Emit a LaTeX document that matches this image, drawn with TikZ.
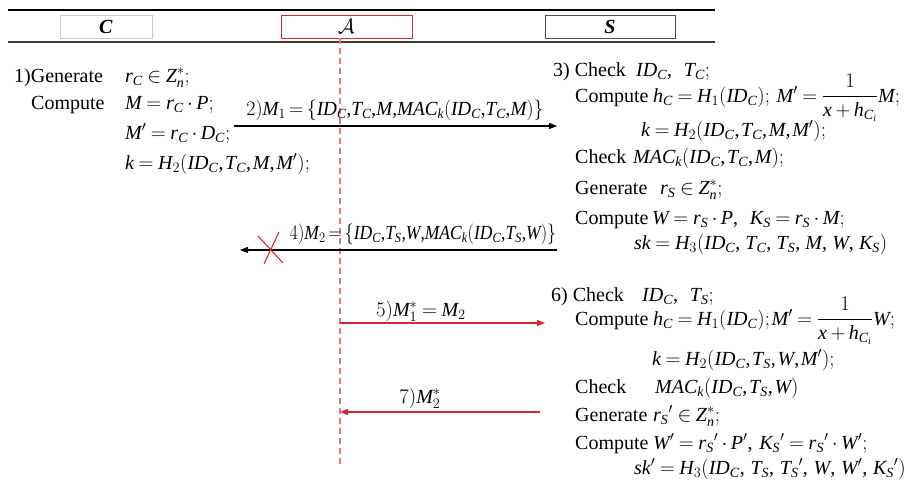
\documentclass[tikz,border=0pt]{standalone}
\usepackage{amsmath}
\usepackage{fontspec}
\setmainfont{Liberation Serif}
\newfontfamily\tnrfam{Liberation Serif}[NFSSFamily=tnr]
\DeclareSymbolFont{tnrit}{TU}{tnr}{m}{it}
\DeclareSymbolFont{tnrup}{TU}{tnr}{m}{n}
\makeatletter
\count@=`A
\loop \Umathcode\count@="7 \symtnrit \count@ \ifnum\count@<`Z \advance\count@ by 1 \repeat
\count@=`a
\loop \Umathcode\count@="7 \symtnrit \count@ \ifnum\count@<`z \advance\count@ by 1 \repeat
\count@=`0
\loop \Umathcode\count@="0 \symtnrup \count@ \ifnum\count@<`9 \advance\count@ by 1 \repeat
\Umathcode`(="4 \symtnrup `(
\Umathcode`)="5 \symtnrup `)
\Umathcode`,="6 \symtnrup `,
\Umathcode`;="6 \symtnrup `;
\Umathcode`=="3 \symtnrup `=
\Umathcode`+="2 \symtnrup `+
\makeatother
\thinmuskip=1.5mu\relax
\medmuskip=3mu plus 1mu minus 1mu\relax
\thickmuskip=4mu plus 2mu\relax
\newcommand\tightmath{\thinmuskip=0mu\relax\thickmuskip=3mu\relax}
\newcommand\widemath[1]{\thinmuskip=#1\relax}
\usetikzlibrary{arrows.meta}
\definecolor{myred}{RGB}{212,40,45}
\definecolor{dashred}{RGB}{232,120,120}
\definecolor{cgray}{RGB}{200,200,200}
\definecolor{sgray}{RGB}{80,80,80}
\definecolor{lgray}{RGB}{60,60,60}
\tikzset{
  txt/.style={anchor=base west, inner sep=0pt, font=\fontsize{20}{24}\selectfont},
  lbl/.style={anchor=base, inner sep=0pt, font=\fontsize{20}{24}\selectfont},
  msg/.style={line width=1.1pt, -{Triangle[length=8pt,width=6pt]}},
  redmsg/.style={msg, draw=myred, -{Triangle[length=8pt,width=6pt,fill=myred]}},
  headbox/.style={minimum height=23pt, inner sep=0pt, line width=1pt, font=\fontsize{20}{24}\selectfont},
  lifeline/.style={draw=dashred, line width=1.3pt, dash pattern=on 6pt off 4pt},
  crossline/.style={draw=myred, line width=1.1pt},
}
\begin{document}
\begin{tikzpicture}[x=1pt,y=-1pt]
\useasboundingbox (0,0) rectangle (923,482);
% header
\coordinate (tl) at (8,10); \coordinate (tr) at (715,10);
\coordinate (bl) at (8,42); \coordinate (br) at (715,42);
\draw[line width=2pt] (tl) -- (tr);
\draw[line width=1.2pt, lgray] (bl) -- (br);
\node[headbox, draw=cgray, minimum width=92pt] (hc) at (106,26.5) {\textbf{\textit{C}}};
\node[headbox, draw=myred, minimum width=131pt] (ha) at (346.5,26.5) {$\mathcal{A}$};
\node[headbox, draw=sgray, minimum width=130pt] (hs) at (610,26.5) {\textbf{\textit{S}}};
% lifeline
\coordinate (la) at (340,38); \coordinate (lb) at (340,465);
\draw[lifeline] (la) -- (lb);
% left block
\node[txt] (g1) at (14,82) {1)Generate};
\node[txt] (g1m) at (125,82) {$r_C \in Z_n^*;$};
\node[txt] (c1) at (31,109) {Compute};
\node[txt] (c1m) at (125,109) {$M = r_C \cdot P;$};
\node[txt] (c2m) at (125,139) {$M' = r_C \cdot D_C;$};
\node[txt] (c3m) at (125,169) {$k = H_2(ID_C,T_C,M,M');$};
% message 2
\coordinate (m2s) at (234,126); \coordinate (m2e) at (557,126);
\draw[msg] (m2s) -- (m2e);
\node[lbl] (m2l) at (395,115) {\tightmath\scalebox{0.96}[1]{$2)M_1 = \{ID_C,T_C,M,MAC_k(ID_C,T_C,M)\}$}};
% right block 1
\node[txt] (r1a) at (553,76) {3) Check};
\node[txt] (r1am) at (636,76) {$ID_C,\ \ T_C;$};
\node[txt] (r1b) at (575,102) {Compute};
\node[txt] (r1bm) at (653,102) {$h_C = H_1(ID_C);\ M' = \dfrac{1}{x+h_{C_i}}M;$};
\node[txt] (r1cm) at (641,136) {$k = H_2(ID_C,T_C,M,M');$};
\node[txt] (r1d) at (575,163) {Check};
\node[txt] (r1dm) at (633,163) {$MAC_k(ID_C,T_C,M);$};
\node[txt] (r1e) at (575,194) {Generate};
\node[txt] (r1em) at (660,194) {$r_S \in Z_n^*;$};
\node[txt] (r1f) at (575,224) {Compute};
\node[txt] (r1fm) at (652,224) {$W = r_S \cdot P,\ \ K_S = r_S \cdot M;$};
\node[txt] (r1gm) at (634,249) {\widemath{4.5mu}$sk = H_3(ID_C,T_C,T_S,M,W,K_S)$};
% message 4
\coordinate (m4s) at (557,250); \coordinate (m4e) at (240,250);
\draw[msg] (m4s) -- (m4e);
\node[lbl] (m4l) at (423,239) {\tightmath\scalebox{0.875}[1]{$4)M_2 = \{ID_C,T_S,W,MAC_k(ID_C,T_S,W)\}$}};
\coordinate (x1a) at (258,236); \coordinate (x1b) at (283,263);
\coordinate (x2a) at (279,232); \coordinate (x2b) at (264,264);
\draw[crossline] (x1a) -- (x1b);
\draw[crossline] (x2a) -- (x2b);
% message 5
\coordinate (m5s) at (340,323); \coordinate (m5e) at (545,323);
\draw[redmsg] (m5s) -- (m5e);
\node[lbl] (m5l) at (421,316) {$5)M_1^* = M_2$};
% right block 2
\node[txt] (r2a) at (551,301) {6) Check};
\node[txt] (r2am) at (642,301) {$ID_C,\ \ T_S;$};
\node[txt] (r2b) at (575,325) {Compute};
\node[txt] (r2bm) at (653,325) {$h_C = H_1(ID_C);M' = \dfrac{1}{x+h_{C_i}}W;$};
\node[txt] (r2cm) at (652,365) {$k = H_2(ID_C,T_S,W,M');$};
\node[txt] (r2d) at (575,393) {Check};
\node[txt] (r2dm) at (655,393) {$MAC_k(ID_C,T_S,W)$};
\node[txt] (r2e) at (575,421) {Generate};
\node[txt] (r2em) at (653,421) {$r_S{}' \in Z_n^*;$};
\node[txt] (r2f) at (575,449) {Compute};
\node[txt] (r2fm) at (653,449) {$W' = r_S{}' \cdot P',\ K_S{}' = r_S{}' \cdot W';$};
\node[txt] (r2gm) at (634,474) {\widemath{5mu}$sk' = H_3(ID_C,T_S,T_S{}',W,W',K_S{}')$};
% message 7
\coordinate (m7s) at (540,412); \coordinate (m7e) at (340,412);
\draw[redmsg] (m7s) -- (m7e);
\node[lbl] (m7l) at (420,403) {$7)M_2^*$};
\end{tikzpicture}
\end{document}
